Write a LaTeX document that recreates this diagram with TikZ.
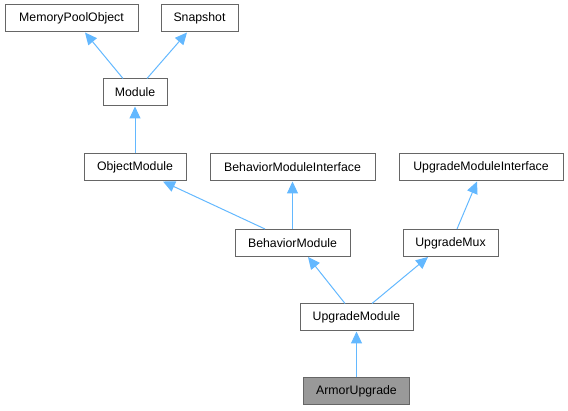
\documentclass[tikz,border=0pt]{standalone}
\usepackage{fontspec}
\setmainfont{Liberation Sans}
\usetikzlibrary{arrows.meta}
\definecolor{edgeblue}{HTML}{63B8FF}
\definecolor{boxgray}{HTML}{666666}
\definecolor{curfill}{HTML}{999999}
\tikzset{
  cls/.style={draw=boxgray, line width=1pt, fill=white, minimum height=27pt, inner sep=0pt,
    font=\fontsize{12.3pt}{14pt}\selectfont, text=black},
  cur/.style={cls, fill=curfill},
  inh/.style={draw=edgeblue, line width=1pt, -{Triangle[length=12pt, width=11pt]}}
}
\begin{document}
\begin{tikzpicture}[x=1pt, y=-1pt]
\useasboundingbox (0,0) rectangle (568,411);
\node[cls, minimum width=133pt] (mpo) at (71.5,18.5) {MemoryPoolObject};
\node[cls, minimum width=77pt] (snap) at (199.5,18.5) {Snapshot};
\node[cls, minimum width=64pt] (mod) at (135,92.5) {Module};
\node[cls, minimum width=102pt] (om) at (135,167.5) {ObjectModule};
\node[cls, minimum width=165pt] (bmi) at (292.5,167.5) {BehaviorModuleInterface};
\node[cls, minimum width=164pt] (umi) at (481,167.5) {UpgradeModuleInterface};
\node[cls, minimum width=115pt] (bm) at (292.5,243) {BehaviorModule};
\node[cls, minimum width=95pt] (mux) at (450.5,243) {UpgradeMux};
\node[cls, minimum width=113pt] (um) at (356.5,317.5) {UpgradeModule};
\node[cur, minimum width=106pt] (au) at (356.5,391.5) {ArmorUpgrade};

\draw[inh] ([xshift=-12pt]mod.north) -- ([xshift=13.5pt]mpo.south);
\draw[inh] ([xshift=12pt]mod.north) -- ([xshift=-12.5pt]snap.south);
\draw[inh] (om.north) -- (mod.south);
\draw[inh] ([xshift=-27.5pt]bm.north) -- ([xshift=28pt]om.south);
\draw[inh] (bm.north) -- (bmi.south);
\draw[inh] ([xshift=6.5pt]mux.north) -- ([xshift=-4pt]umi.south);
\draw[inh] ([xshift=-11.5pt]um.north) -- ([xshift=15.5pt]bm.south);
\draw[inh] ([xshift=15.5pt]um.north) -- ([xshift=-22.5pt]mux.south);
\draw[inh] (au.north) -- (um.south);
\end{tikzpicture}
\end{document}
